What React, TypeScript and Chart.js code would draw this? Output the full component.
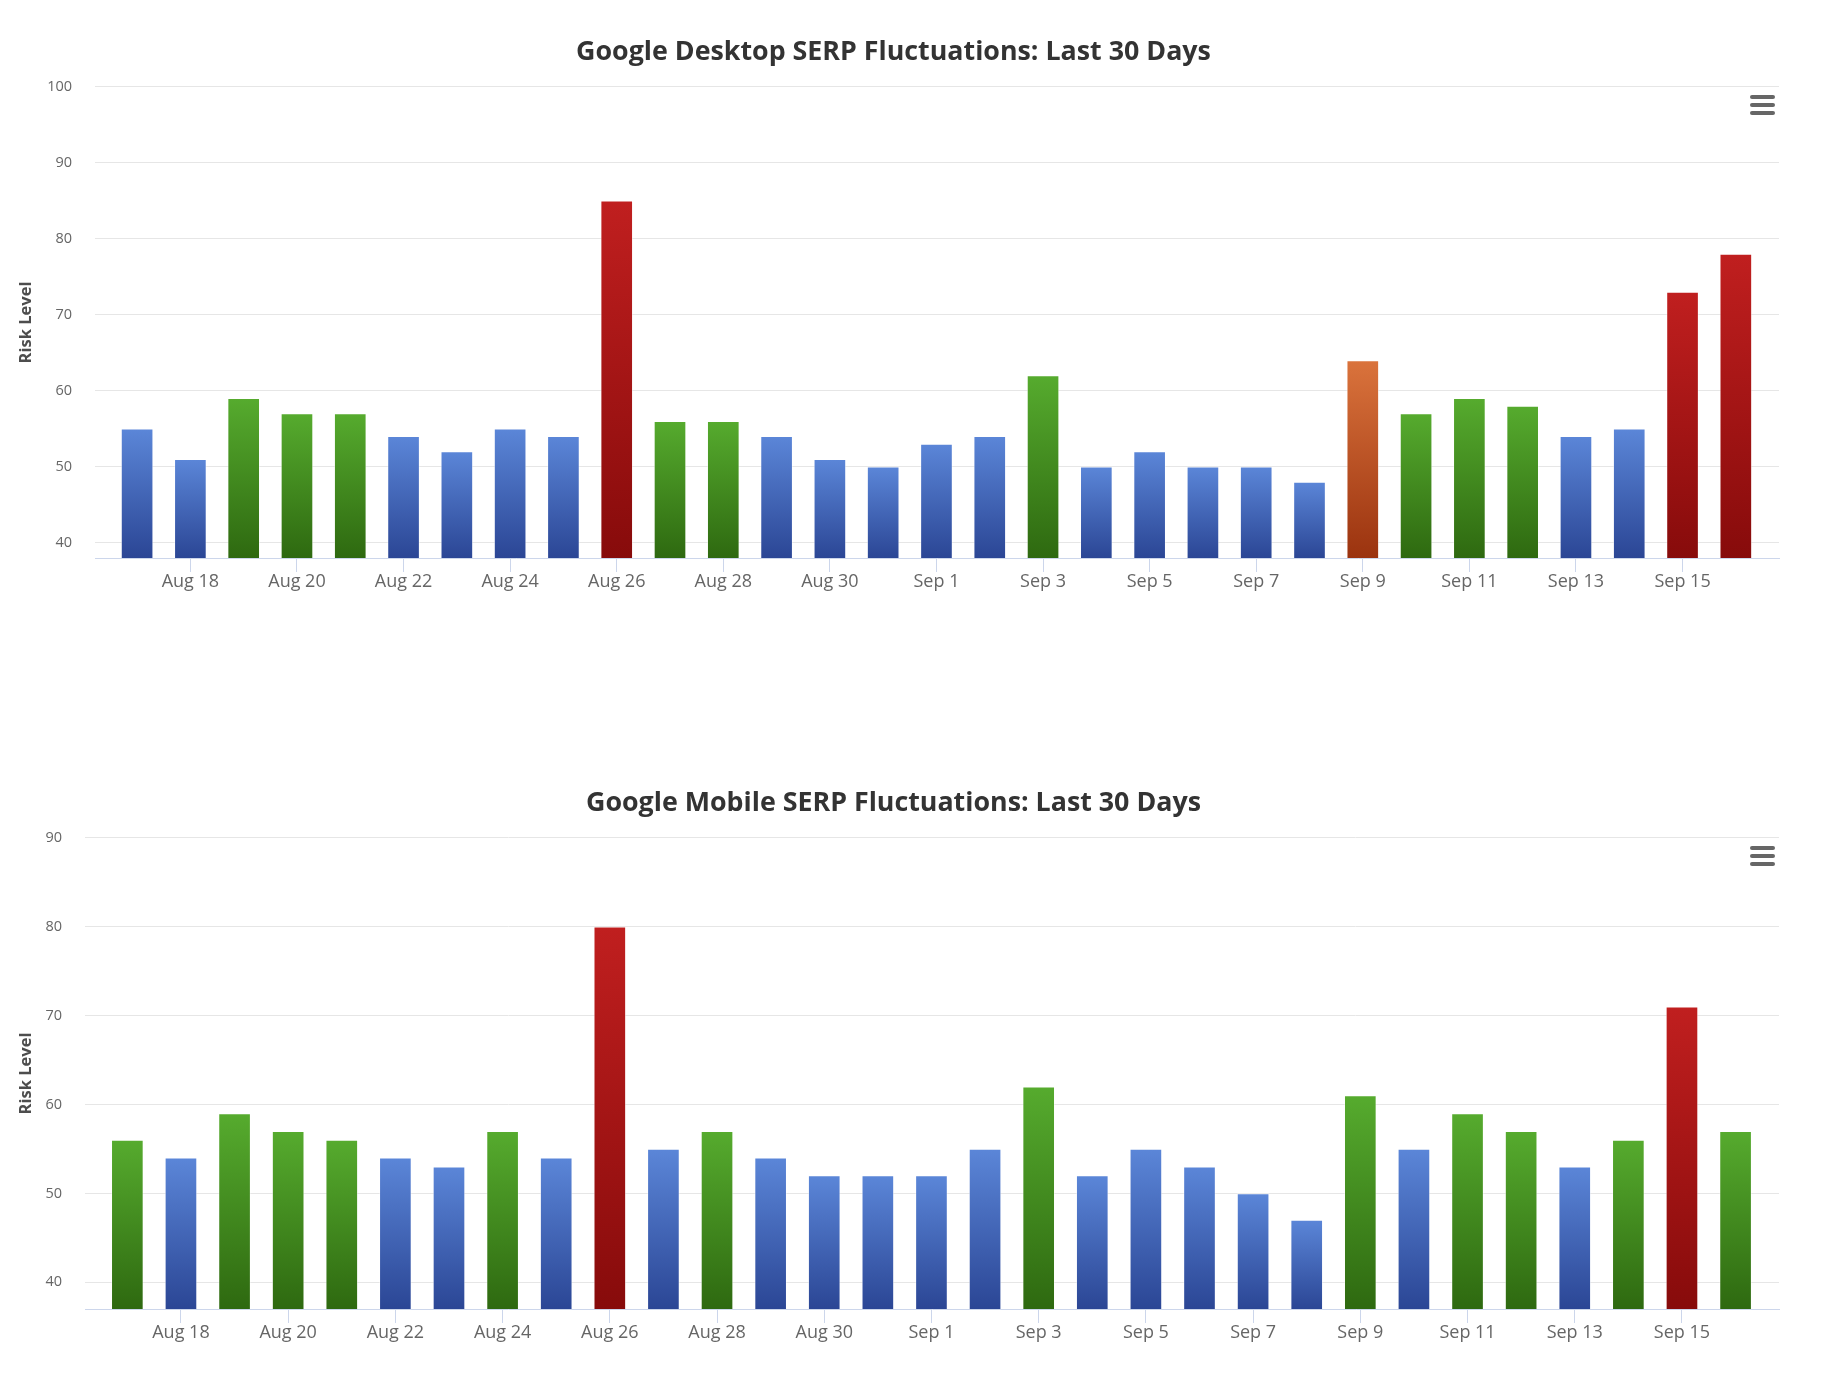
import React, { useEffect, useRef } from "react";
import { Chart, registerables } from "chart.js";

Chart.register(...registerables);

const days = [
  "Aug 17", "Aug 18", "Aug 19", "Aug 20", "Aug 21", "Aug 22", "Aug 23", "Aug 24",
  "Aug 25", "Aug 26", "Aug 27", "Aug 28", "Aug 29", "Aug 30", "Aug 31",
  "Sep 1", "Sep 2", "Sep 3", "Sep 4", "Sep 5", "Sep 6", "Sep 7", "Sep 8",
  "Sep 9", "Sep 10", "Sep 11", "Sep 12", "Sep 13", "Sep 14", "Sep 15", "Sep 16",
];

const tickDays = [
  "Aug 18", "Aug 20", "Aug 22", "Aug 24", "Aug 26", "Aug 28", "Aug 30",
  "Sep 1", "Sep 3", "Sep 5", "Sep 7", "Sep 9", "Sep 11", "Sep 13", "Sep 15",
];

const desktopValues = [
  55, 51, 59, 57, 57, 54, 52, 55, 54, 85, 56, 56, 54, 51, 50, 53, 54, 62, 50, 52,
  50, 50, 48, 64, 57, 59, 58, 54, 55, 73, 78,
];

const mobileValues = [
  56, 54, 59, 57, 56, 54, 53, 57, 54, 80, 55, 57, 54, 52, 52, 52, 55, 62, 52, 55,
  53, 50, 47, 61, 55, 59, 57, 53, 56, 71, 57,
];

const desktopYTicks = [40, 50, 60, 70, 80, 90, 100];
const mobileYTicks = [40, 50, 60, 70, 80, 90];

const FONT = "'Open Sans', 'Noto Sans', sans-serif";

const palette: Record<string, [string, string]> = {
  low: ["#5b86d8", "#2b4695"],
  normal: ["#56ab2e", "#2e6910"],
  elevated: ["#da733c", "#9b330f"],
  high: ["#c01f1f", "#870b0b"],
};

function levelOf(v: number): string {
  if (v >= 70) return "high";
  if (v >= 63) return "elevated";
  if (v > 55) return "normal";
  return "low";
}

type Cfg = {
  title: string;
  values: number[];
  yMin: number;
  yMax: number;
  yTicks: number[];
  yAxisWidth: number;
};

function makeConfig(c: Cfg): any {
  return {
    type: "bar",
    data: {
      datasets: [
        {
          label: c.title,
          data: c.values.map((v, i) => ({ x: i, y: v })),
          base: c.yMin,
          barThickness: 32,
          borderWidth: 1,
          borderColor: "rgba(255,255,255,0.42)",
          borderSkipped: "bottom",
          backgroundColor: (ctx: any) => {
            const chart = ctx.chart;
            const v = ctx.raw ? ctx.raw.y : 50;
            const cols = palette[levelOf(v)];
            if (!chart.chartArea || !chart.scales || !chart.scales.y) return cols[0];
            const ys = chart.scales.y;
            const top = ys.getPixelForValue(v);
            const bottom = ys.getPixelForValue(c.yMin);
            if (!isFinite(top) || !isFinite(bottom) || top === bottom) return cols[0];
            const g = chart.ctx.createLinearGradient(0, top, 0, bottom);
            g.addColorStop(0, cols[0]);
            g.addColorStop(1, cols[1]);
            return g;
          },
        },
      ],
    },
    options: {
      responsive: false,
      animation: false,
      events: [],
      layout: { padding: { left: 0, right: 38, top: 0, bottom: 0 } },
      plugins: {
        legend: { display: false },
        tooltip: { enabled: false },
        title: {
          display: true,
          text: c.title,
          color: "#333333",
          font: { family: FONT, size: 26.8, weight: "bold", lineHeight: 1.2 },
          padding: { top: 28, bottom: 18.8 },
        },
      },
      scales: {
        x: {
          type: "linear",
          offset: false,
          min: -0.79,
          max: 30.81,
          afterBuildTicks: (s: any) => {
            s.ticks = tickDays.map((d) => ({ value: days.indexOf(d) }));
          },
          afterFit: (s: any) => {
            s.height = 50;
          },
          ticks: {
            autoSkip: false,
            maxRotation: 0,
            minRotation: 0,
            padding: -1,
            color: "#666666",
            font: { family: FONT, size: 18 },
            callback: (v: any) => days[v] ?? "",
          },
          grid: {
            offset: false,
            drawOnChartArea: false,
            drawTicks: true,
            tickLength: 14,
            color: "#ccd6eb",
            lineWidth: 1,
          },
          border: { display: true, color: "#ccd6eb", width: 1 },
        },
        y: {
          type: "linear",
          min: c.yMin,
          max: c.yMax,
          afterBuildTicks: (s: any) => {
            s.ticks = c.yTicks.map((v) => ({ value: v }));
          },
          afterFit: (s: any) => {
            s.width = c.yAxisWidth;
          },
          ticks: {
            padding: 23,
            color: "#666666",
            font: { family: FONT, size: 14.5 },
          },
          grid: { color: "#e6e6e6", lineWidth: 1, drawTicks: false },
          border: { display: false },
          title: {
            display: true,
            text: "Risk Level",
            color: "#4d4d4d",
            font: { family: FONT, size: 16.5, weight: "bold", lineHeight: 1.2 },
            padding: { top: 8, bottom: 0 },
          },
        },
      },
    },
  };
}

function Hamburger() {
  const bar = (top: number): React.CSSProperties => ({
    position: "absolute",
    left: 1742,
    top,
    width: 25,
    height: 4,
    borderRadius: 2,
    background: "#666666",
  });
  return (
    <>
      <div style={bar(87)} />
      <div style={bar(95)} />
      <div style={bar(103)} />
    </>
  );
}

function SerpChart(props: Cfg) {
  const ref = useRef<HTMLCanvasElement | null>(null);
  useEffect(() => {
    if (!ref.current) return;
    const chart = new Chart(ref.current, makeConfig(props));
    return () => chart.destroy();
  }, []);
  return (
    <div style={{ position: "relative", width: 1809, height: 600 }}>
      <canvas ref={ref} width={1809} height={600} style={{ display: "block", width: 1809, height: 600 }} />
      <Hamburger />
    </div>
  );
}

export default function App() {
  return (
    <div>
      <SerpChart
        title="Google Desktop SERP Fluctuations: Last 30 Days"
        values={desktopValues}
        yMin={38}
        yMax={100}
        yTicks={desktopYTicks}
        yAxisWidth={87}
      />
      <div style={{ height: 151 }} />
      <SerpChart
        title="Google Mobile SERP Fluctuations: Last 30 Days"
        values={mobileValues}
        yMin={37}
        yMax={90}
        yTicks={mobileYTicks}
        yAxisWidth={77}
      />
    </div>
  );
}
